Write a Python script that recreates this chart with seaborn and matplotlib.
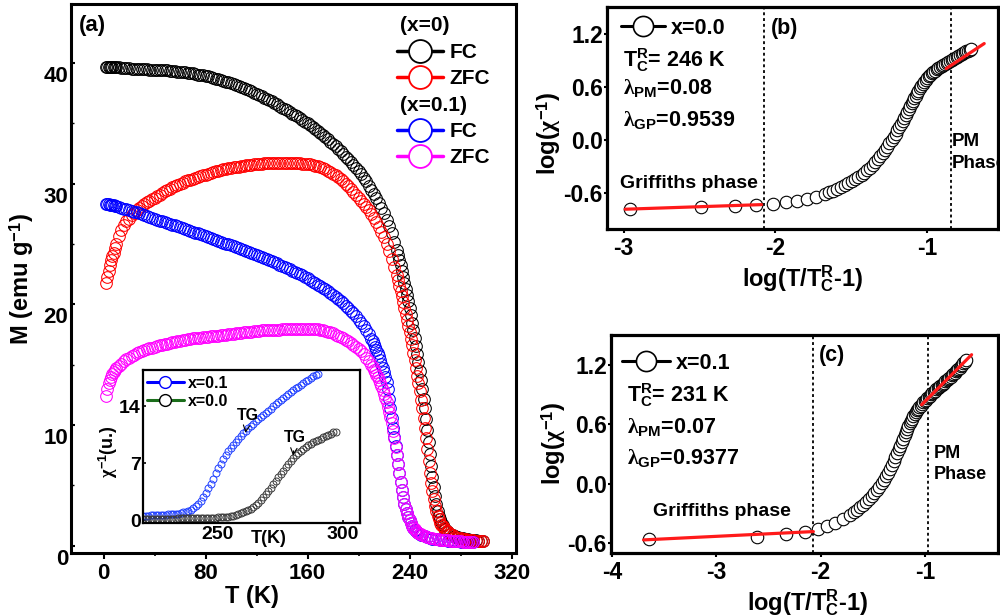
import matplotlib
matplotlib.use("Agg")
import matplotlib.pyplot as plt
from matplotlib.lines import Line2D
from matplotlib.transforms import ScaledTranslation
from matplotlib.ticker import FormatStrFormatter
import seaborn as sns

# ---------------- data ----------------
# (a) M-T curves, sample x = 0
T_x0 = [2, 3, 4, 5, 6, 7, 8, 9, 10,
        12, 14, 16, 18, 20, 22, 24, 26, 28, 30, 32, 34, 36, 38, 40, 42, 44, 46, 48, 50,
        52, 54, 56, 58, 60, 62, 64, 66, 68, 70, 72, 74, 76, 78, 80, 82, 84, 86, 88, 90,
        92, 94, 96, 98, 100, 102, 104, 106, 108, 110, 112, 114, 116, 118, 120, 122, 124,
        126, 128, 130, 132, 134, 136, 138, 140, 142, 144, 146, 148, 150, 152, 154, 156,
        158, 160, 162, 164, 166, 168, 170, 172, 174, 176, 178, 180, 182, 184, 186, 188,
        190, 192, 194, 196, 198, 200, 202, 204, 206, 208, 210, 212, 214, 216, 218, 220,
        222, 224, 226, 228, 230,
        231, 232, 233, 234, 235, 236, 237, 238, 239, 240, 241, 242, 243, 244, 245, 246,
        247, 248, 249, 250, 251, 252, 253, 254, 255, 256, 257, 258, 259, 260, 261, 262,
        263, 264, 265, 266, 267, 268, 269, 270,
        272, 274, 276, 278, 280, 282, 284, 286, 288, 290, 292, 294, 296, 298]
M_fc_x0 = [39.7, 39.7, 39.7, 39.7, 39.7, 39.7, 39.7, 39.68, 39.66,
           39.65, 39.62, 39.6, 39.58, 39.56, 39.55, 39.53, 39.52, 39.5, 39.5,
           39.49, 39.48, 39.47, 39.46, 39.45, 39.44, 39.43, 39.42, 39.41, 39.4,
           39.38, 39.35, 39.33, 39.3, 39.28, 39.25, 39.23, 39.2, 39.18, 39.15,
           39.1, 39.05, 39.03, 39.0, 38.95, 38.9, 38.85, 38.8, 38.72, 38.65,
           38.58, 38.5, 38.45, 38.4, 38.32, 38.25, 38.18, 38.1, 38.03, 37.95,
           37.85, 37.75, 37.65, 37.55, 37.45, 37.35, 37.25, 37.15, 37.05, 36.95,
           36.82, 36.7, 36.58, 36.45, 36.32, 36.2, 36.08, 35.95, 35.82, 35.7,
           35.58, 35.45, 35.3, 35.15, 35.0, 34.85, 34.7, 34.55, 34.38, 34.2,
           34.02, 33.85, 33.68, 33.5, 33.3, 33.1, 32.9, 32.7, 32.48, 32.25,
           32.02, 31.8, 31.55, 31.3, 31.05, 30.8, 30.5, 30.2, 29.85, 29.5,
           29.15, 28.8, 28.4, 28.0, 27.55, 27.0, 26.5, 25.9, 25.2, 24.5,
           24.1, 23.7, 23.25, 22.8, 22.3, 21.8, 21.3, 20.8, 20.25, 19.7,
           19.1, 18.5, 17.85, 17.2, 16.55, 15.9, 15.2, 14.5, 13.75, 13.0,
           12.2, 11.4, 10.5, 9.6, 8.6, 7.6, 6.6, 5.7, 4.85, 4.1,
           3.45, 2.9, 2.5, 2.2, 1.95, 1.7, 1.5, 1.35, 1.25, 1.15,
           1.0, 0.9, 0.8, 0.73, 0.67, 0.62, 0.58, 0.54, 0.5, 0.47, 0.45, 0.42, 0.4, 0.39]
M_zfc_x0 = [21.8, 22.3, 22.8, 23.3, 23.65, 24.0, 24.3, 24.65, 25.0,
            25.7, 26.2, 26.6, 26.9, 27.1, 27.4, 27.6, 27.8, 28.0, 28.15,
            28.3, 28.45, 28.55, 28.7, 28.85, 28.95, 29.1, 29.25, 29.4, 29.5,
            29.6, 29.7, 29.8, 29.9, 30.0, 30.1, 30.2, 30.3, 30.35, 30.4,
            30.5, 30.6, 30.65, 30.7, 30.75, 30.8, 30.9, 31.0, 31.05, 31.1,
            31.15, 31.2, 31.25, 31.3, 31.32, 31.35, 31.38, 31.4, 31.45, 31.5,
            31.52, 31.55, 31.58, 31.6, 31.62, 31.65, 31.68, 31.7, 31.7, 31.7,
            31.72, 31.75, 31.75, 31.75, 31.75, 31.75, 31.75, 31.75, 31.72, 31.7,
            31.7, 31.7, 31.68, 31.65, 31.62, 31.6, 31.55, 31.5, 31.45, 31.4,
            31.3, 31.2, 31.1, 31.0, 30.85, 30.7, 30.55, 30.4, 30.2, 30.0,
            29.8, 29.6, 29.35, 29.1, 28.85, 28.6, 28.35, 28.1, 27.8, 27.5,
            27.15, 26.8, 26.4, 26.0, 25.55, 25.0, 24.4, 23.8, 23.1, 22.4,
            22.0, 21.55, 21.15, 20.7, 20.2, 19.7, 19.2, 18.7, 18.2, 17.7,
            17.15, 16.6, 16.0, 15.4, 14.75, 14.1, 13.45, 12.8, 12.1, 11.4,
            10.6, 9.8, 8.9, 8.0, 7.0, 6.0, 5.2, 4.5, 3.85, 3.3,
            2.85, 2.5, 2.2, 1.9, 1.75, 1.6, 1.45, 1.3, 1.2, 1.1,
            0.95, 0.85, 0.75, 0.68, 0.63, 0.58, 0.54, 0.5, 0.47, 0.45, 0.43, 0.41, 0.39, 0.38]

# (a) M-T curves, sample x = 0.1
T_x01 = [2, 3, 4, 5, 6, 7, 8, 9, 10,
         12, 14, 16, 18, 20, 22, 24, 26, 28, 30, 32, 34, 36, 38, 40, 42, 44, 46, 48, 50,
         52, 54, 56, 58, 60, 62, 64, 66, 68, 70, 72, 74, 76, 78, 80, 82, 84, 86, 88, 90,
         92, 94, 96, 98, 100, 102, 104, 106, 108, 110, 112, 114, 116, 118, 120, 122, 124,
         126, 128, 130, 132, 134, 136, 138, 140, 142, 144, 146, 148, 150, 152, 154, 156,
         158, 160, 162, 164, 166, 168, 170, 172, 174, 176, 178, 180, 182, 184, 186, 188,
         190, 192, 194, 196, 198, 200, 202, 204, 206, 208, 210,
         211, 212, 213, 214, 215, 216, 217, 218, 219, 220, 221, 222, 223, 224, 225, 226,
         227, 228, 229, 230, 231, 232, 233, 234, 235, 236, 237, 238, 239, 240, 241, 242,
         243, 244, 245, 246, 247, 248, 249, 250,
         252, 254, 256, 258, 260, 262, 264, 266, 268, 270, 272, 274, 276, 278, 280, 282,
         284, 286, 288, 290]
M_fc_x01 = [28.3, 28.3, 28.3, 28.28, 28.25, 28.22, 28.2, 28.18, 28.15,
            28.1, 28.03, 27.95, 27.9, 27.85, 27.78, 27.7, 27.62, 27.55, 27.48,
            27.4, 27.32, 27.25, 27.18, 27.1, 27.02, 26.95, 26.88, 26.8, 26.75,
            26.7, 26.62, 26.55, 26.48, 26.4, 26.32, 26.25, 26.18, 26.1, 26.02,
            25.95, 25.88, 25.8, 25.72, 25.65, 25.58, 25.5, 25.42, 25.35, 25.28,
            25.2, 25.12, 25.05, 24.98, 24.9, 24.82, 24.75, 24.68, 24.6, 24.5,
            24.4, 24.32, 24.25, 24.18, 24.1, 24.02, 23.95, 23.85, 23.75, 23.68,
            23.6, 23.5, 23.4, 23.3, 23.2, 23.1, 23.0, 22.9, 22.8, 22.7,
            22.6, 22.5, 22.4, 22.28, 22.15, 22.02, 21.9, 21.78, 21.65, 21.52,
            21.4, 21.25, 21.1, 20.95, 20.8, 20.62, 20.45, 20.28, 20.1, 19.9,
            19.7, 19.48, 19.25, 19.0, 18.75, 18.5, 18.2, 17.9, 17.55, 17.15,
            16.95, 16.75, 16.5, 16.25, 16.0, 15.7, 15.4, 15.1, 14.75, 14.4,
            14.0, 13.6, 12.95, 12.2, 11.4, 10.6, 9.8, 9.0, 8.25, 7.5,
            6.75, 6.0, 5.3, 4.6, 4.0, 3.5, 3.05, 2.7, 2.4, 2.1,
            1.85, 1.6, 1.45, 1.3, 1.2, 1.1, 1.02, 0.95, 0.9, 0.85,
            0.78, 0.72, 0.65, 0.6, 0.56, 0.52, 0.5, 0.47, 0.45, 0.43,
            0.41, 0.4, 0.38, 0.37, 0.35, 0.34, 0.33, 0.32, 0.31, 0.3]
M_zfc_x01 = [12.4, 13.0, 13.5, 13.75, 14.0, 14.2, 14.4, 14.55, 14.7,
             14.9, 15.1, 15.3, 15.45, 15.6, 15.72, 15.85, 15.95, 16.05, 16.12,
             16.2, 16.28, 16.35, 16.42, 16.5, 16.55, 16.6, 16.65, 16.7, 16.75,
             16.8, 16.85, 16.9, 16.95, 17.0, 17.02, 17.05, 17.1, 17.15, 17.18,
             17.2, 17.22, 17.25, 17.28, 17.3, 17.32, 17.35, 17.38, 17.4, 17.42,
             17.45, 17.48, 17.5, 17.52, 17.55, 17.58, 17.6, 17.62, 17.65, 17.68,
             17.7, 17.72, 17.75, 17.78, 17.8, 17.82, 17.85, 17.85, 17.85, 17.88,
             17.9, 17.9, 17.9, 17.92, 17.95, 17.95, 17.95, 17.98, 18.0, 18.0,
             18.0, 18.0, 18.0, 18.0, 18.0, 18.0, 18.0, 17.98, 17.95, 17.92,
             17.9, 17.82, 17.75, 17.68, 17.6, 17.5, 17.4, 17.3, 17.2, 17.08,
             16.95, 16.8, 16.65, 16.48, 16.3, 16.1, 15.88, 15.6, 15.3, 15.0,
             14.8, 14.6, 14.4, 14.18, 13.95, 13.7, 13.45, 13.2, 12.9, 12.6,
             12.25, 11.9, 11.5, 11.1, 10.65, 10.2, 9.55, 8.9, 8.2, 7.5,
             6.75, 6.0, 5.3, 4.6, 4.0, 3.5, 3.05, 2.7, 2.4, 2.1,
             1.85, 1.65, 1.5, 1.35, 1.25, 1.15, 1.07, 1.0, 0.95, 0.9,
             0.82, 0.75, 0.68, 0.63, 0.58, 0.54, 0.51, 0.48, 0.46, 0.44,
             0.42, 0.4, 0.39, 0.37, 0.36, 0.35, 0.34, 0.33, 0.31, 0.3]

# inset: inverse susceptibility
T_in_x01 = [220, 221, 222, 223, 224, 225, 226, 227, 228, 229,
            230, 231, 232, 233, 234, 235, 236, 237, 238, 239,
            240, 241, 242, 243, 244, 245, 246, 247, 248, 249,
            250, 251, 252, 253, 254, 255, 256, 257, 258, 259,
            260, 261, 262, 263, 264, 265, 266, 267, 268, 269,
            270, 271, 272, 273, 274, 275, 276, 277, 278, 279,
            280, 281, 282, 283, 284, 285, 286, 287, 288, 289, 290]
chi_inv_x01 = [0.55, 0.55, 0.55, 0.57, 0.6, 0.6, 0.6, 0.62, 0.65, 0.68,
               0.7, 0.72, 0.75, 0.78, 0.8, 0.87, 0.95, 1.05, 1.15, 1.3,
               1.45, 1.68, 1.95, 2.35, 2.8, 3.35, 3.9, 4.5, 5.1, 5.75,
               6.4, 6.95, 7.5, 8.0, 8.5, 8.9, 9.3, 9.65, 10.0, 10.35,
               10.7, 11.0, 11.3, 11.6, 11.9, 12.2, 12.5, 12.75, 13.0, 13.25,
               13.5, 13.75, 14.0, 14.25, 14.5, 14.75, 15.0, 15.25, 15.5, 15.75,
               16.0, 16.22, 16.45, 16.68, 16.9, 17.1, 17.3, 17.5, 17.7, 17.85, 18.0]
T_in_x0 = [220, 221, 222, 223, 224, 225, 226, 227, 228, 229,
           230, 231, 232, 233, 234, 235, 236, 237, 238, 239,
           240, 241, 242, 243, 244, 245, 246, 247, 248, 249,
           250, 251, 252, 253, 254, 255, 256, 257, 258, 259,
           260, 261, 262, 263, 264, 265, 266, 267, 268, 269,
           270, 271, 272, 273, 274, 275, 276, 277, 278, 279,
           280, 281, 282, 283, 284, 285, 286, 287, 288, 289,
           290, 291, 292, 293, 294, 295, 296, 297]
chi_inv_x0 = [0.15, 0.15, 0.15, 0.15, 0.15, 0.15, 0.15, 0.15, 0.15, 0.16,
              0.17, 0.17, 0.18, 0.19, 0.2, 0.2, 0.2, 0.21, 0.22, 0.22,
              0.23, 0.24, 0.25, 0.26, 0.27, 0.27, 0.28, 0.29, 0.3, 0.31,
              0.32, 0.33, 0.35, 0.37, 0.4, 0.44, 0.5, 0.6, 0.7, 0.82,
              0.95, 1.1, 1.25, 1.42, 1.6, 1.85, 2.1, 2.45, 2.8, 3.2,
              3.6, 4.0, 4.4, 4.85, 5.3, 5.7, 6.1, 6.5, 6.9, 7.3,
              7.7, 8.0, 8.3, 8.55, 8.8, 9.0, 9.2, 9.4, 9.6, 9.75,
              9.9, 10.05, 10.2, 10.35, 10.5, 10.65, 10.8, 10.9]

# (b) log-log plot, x = 0.0
logt_b = [-2.956, -2.49, -2.264, -2.125, -2.015, -1.927, -1.857, -1.791, -1.730, -1.672,
          -1.644, -1.618, -1.592, -1.566, -1.542, -1.518, -1.495, -1.472, -1.451, -1.430,
          -1.411, -1.392, -1.374, -1.356, -1.339, -1.322, -1.306, -1.290, -1.275, -1.260,
          -1.246, -1.232, -1.219, -1.206, -1.194, -1.182, -1.171, -1.160, -1.149, -1.139,
          -1.129, -1.119, -1.109, -1.100, -1.091, -1.082, -1.073, -1.064, -1.055, -1.046,
          -1.036, -1.027, -1.017, -1.008, -0.998, -0.988, -0.977, -0.967, -0.956, -0.946,
          -0.935, -0.924, -0.913, -0.902, -0.891, -0.880, -0.869, -0.858, -0.847, -0.836,
          -0.825, -0.814, -0.803, -0.792, -0.781, -0.770, -0.760, -0.749, -0.739, -0.728,
          -0.717, -0.705]
logchi_b = [-0.78, -0.765, -0.752, -0.741, -0.725, -0.707, -0.688, -0.668, -0.643, -0.613,
            -0.596, -0.578, -0.559, -0.538, -0.517, -0.494, -0.471, -0.448, -0.424, -0.400,
            -0.373, -0.345, -0.316, -0.285, -0.253, -0.220, -0.186, -0.150, -0.114, -0.078,
            -0.042, -0.005, 0.032, 0.068, 0.104, 0.140, 0.175, 0.210, 0.244, 0.278,
            0.312, 0.345, 0.378, 0.410, 0.440, 0.470, 0.499, 0.528, 0.556, 0.583,
            0.608, 0.632, 0.655, 0.676, 0.697, 0.716, 0.734, 0.750, 0.766, 0.782,
            0.796, 0.810, 0.823, 0.836, 0.847, 0.858, 0.868, 0.878, 0.888, 0.897,
            0.908, 0.920, 0.932, 0.944, 0.956, 0.968, 0.978, 0.988, 0.998, 1.008,
            1.019, 1.03]
gp_fit_b_x = [-2.99, -2.09]
gp_fit_b_y = [-0.786, -0.734]
pm_fit_b_x = [-0.872, -0.621]
pm_fit_b_y = [0.804, 1.087]
bounds_b = [-2.077, -0.84]

# (c) log-log plot, x = 0.1
logt_c = [-3.65, -2.606, -2.331, -2.149, -2.03, -1.94, -1.862, -1.785, -1.715, -1.682,
          -1.650, -1.620, -1.590, -1.562, -1.535, -1.510, -1.485, -1.461, -1.438, -1.416,
          -1.395, -1.375, -1.355, -1.336, -1.318, -1.300, -1.283, -1.267, -1.251, -1.236,
          -1.222, -1.208, -1.195, -1.182, -1.170, -1.158, -1.146, -1.134, -1.123, -1.111,
          -1.100, -1.088, -1.077, -1.065, -1.053, -1.041, -1.029, -1.016, -1.004, -0.991,
          -0.979, -0.966, -0.954, -0.941, -0.929, -0.916, -0.904, -0.891, -0.879, -0.866,
          -0.854, -0.841, -0.829, -0.816, -0.804, -0.791, -0.779, -0.766, -0.754, -0.741,
          -0.729, -0.716, -0.704, -0.692, -0.680, -0.668, -0.656, -0.644, -0.632, -0.620,
          -0.607]
logchi_c = [-0.561, -0.541, -0.51, -0.484, -0.46, -0.428, -0.393, -0.355, -0.313, -0.290,
            -0.266, -0.240, -0.214, -0.186, -0.158, -0.128, -0.097, -0.065, -0.032, 0.003,
            0.038, 0.075, 0.112, 0.151, 0.190, 0.229, 0.268, 0.307, 0.345, 0.382,
            0.418, 0.453, 0.487, 0.519, 0.550, 0.579, 0.607, 0.633, 0.657, 0.679,
            0.700, 0.720, 0.738, 0.755, 0.772, 0.788, 0.804, 0.819, 0.834, 0.848,
            0.862, 0.875, 0.888, 0.900, 0.913, 0.925, 0.938, 0.950, 0.962, 0.973,
            0.985, 0.996, 1.008, 1.019, 1.031, 1.043, 1.055, 1.067, 1.080, 1.093,
            1.106, 1.119, 1.132, 1.145, 1.158, 1.171, 1.185, 1.199, 1.213, 1.229,
            1.245]
gp_fit_c_x = [-3.698, -2.07]
gp_fit_c_y = [-0.568, -0.484]
pm_fit_c_x = [-1.032, -0.553]
pm_fit_c_y = [0.796, 1.301]
bounds_c = [-2.07, -0.968]

# ---------------- style ----------------
sns.set_theme(style="ticks")
plt.rcParams.update({
    "font.family": ["Liberation Sans", "DejaVu Sans"],
    "font.weight": "bold",
    "axes.labelweight": "bold",
    "axes.unicode_minus": False,
    "mathtext.fontset": "custom",
    "mathtext.rm": "Liberation Sans:bold",
    "mathtext.bf": "Liberation Sans:bold",
    "mathtext.sf": "Liberation Sans:bold",
    "mathtext.it": "Liberation Serif",
    "axes.edgecolor": "black",
    "xtick.color": "black",
    "ytick.color": "black",
    "text.color": "black",
    "axes.labelcolor": "black",
})

fig = plt.figure(figsize=(10, 6.16), dpi=100)
ax_a = fig.add_axes([0.071, 0.1023, 0.445, 0.8912])
ax_in = fig.add_axes([0.1433, 0.1505, 0.2167, 0.2489])
ax_b = fig.add_axes([0.607, 0.6282, 0.391, 0.3604])
ax_c = fig.add_axes([0.611, 0.1023, 0.387, 0.3539])


def rings(ax, x, y, color, ms, mew, face="none", z=2):
    sns.lineplot(x=x, y=y, ax=ax, color=color, marker="o", linestyle="none",
                 markersize=ms, markerfacecolor=face, markeredgecolor=color,
                 markeredgewidth=mew, estimator=None, sort=False, legend=False, zorder=z)


def fit_line(ax, x, y, color):
    sns.lineplot(x=x, y=y, ax=ax, color=color, linewidth=2.3, estimator=None,
                 sort=False, legend=False, zorder=5)


# ---------------- panel (a) ----------------
rings(ax_a, T_x0, M_fc_x0, "#000000", 8.4, 0.75)
rings(ax_a, T_x0, M_zfc_x0, "#ff0000", 8.4, 0.75)
rings(ax_a, T_x01, M_fc_x01, "#0000ff", 8.4, 0.75)
rings(ax_a, T_x01, M_zfc_x01, "#ff00ff", 8.4, 0.75)

ax_a.set_xlim(-25.5, 323.5)
ax_a.set_ylim(-0.6, 44.9)
ax_a.set_xticks([0, 80, 160, 240, 320])
ax_a.set_xticks([40, 120, 200, 280], minor=True)
ax_a.set_yticks([0, 10, 20, 30, 40])
ax_a.set_yticks([5, 15, 25, 35], minor=True)
ax_a.tick_params(axis="x", which="major", direction="out", length=4, width=1.5,
                 labelsize=16, pad=3)
ax_a.tick_params(axis="x", which="minor", direction="out", length=2.5, width=1.2)
ax_a.tick_params(axis="y", which="major", direction="in", length=3, width=1.5,
                 labelsize=16, pad=2)
ax_a.tick_params(axis="y", which="minor", direction="in", length=2, width=1.0)
for t in ax_a.yaxis.get_major_ticks():
    t.label1.set_transform(t.label1.get_transform()
                           + ScaledTranslation(0, -0.11, fig.dpi_scale_trans))
for s in ax_a.spines.values():
    s.set_linewidth(2.2)
ax_a.set_xlabel("T (K)", fontsize=17)
ax_a.xaxis.set_label_coords(0.407, -0.058)
ax_a.set_ylabel(r"M (emu g$^{\mathbf{-1}}$)", fontsize=17)
ax_a.yaxis.set_label_coords(-0.079, 0.5)
ax_a.text(0.049, 0.961, "(a)", transform=ax_a.transAxes, ha="center", va="center",
          fontsize=16)

blank = Line2D([], [], linestyle="none")


def entry(color):
    return Line2D([], [], color=color, linewidth=2.5, marker="o", markersize=16.5,
                  markerfacecolor="white", markeredgecolor=color, markeredgewidth=1.3)


ax_a.legend([blank, entry("#000000"), entry("#ff0000"), blank, entry("#0000ff"),
             entry("#ff00ff")],
            [" ", "FC", "ZFC", " ", "FC", "ZFC"],
            loc="upper left", bbox_to_anchor=(0.733, 0.977), frameon=False, fontsize=15,
            handlelength=2.2, handletextpad=0.3, labelspacing=0.35, borderpad=0,
            borderaxespad=0)
ax_a.text(0.739, 0.9617, "(x=0)", transform=ax_a.transAxes, ha="left", va="center",
          fontsize=15)
ax_a.text(0.739, 0.816, "(x=0.1)", transform=ax_a.transAxes, ha="left", va="center",
          fontsize=15)

# ---------------- inset ----------------
rings(ax_in, T_in_x01, chi_inv_x01, "#1f3fff", 5, 0.7)
rings(ax_in, T_in_x0, chi_inv_x0, "#3a3a3a", 5, 0.7)
ax_in.set_xlim(220.1, 306.8)
ax_in.set_ylim(-0.4, 18.5)
ax_in.set_xticks([250, 300])
ax_in.set_yticks([0, 7, 14])
ax_in.tick_params(direction="in", length=2, width=1.2, labelsize=14, pad=2)
for s in ax_in.spines.values():
    s.set_linewidth(1.6)
ax_in.set_xlabel("T(K)", fontsize=13)
ax_in.xaxis.set_label_coords(0.577, -0.044)
ax_in.set_ylabel(r"$\chi^{\mathbf{-1}}$(u.)", fontsize=13)
ax_in.yaxis.set_label_coords(-0.108, 0.465)
ax_in.legend([Line2D([], [], color="#0000ff", linewidth=2.2, marker="o", markersize=8.5,
                     markerfacecolor="white", markeredgecolor="#0000ff", markeredgewidth=1),
              Line2D([], [], color="#1b6e1b", linewidth=2.2, marker="o", markersize=8.5,
                     markerfacecolor="white", markeredgecolor="black", markeredgewidth=1)],
             ["x=0.1", "x=0.0"], loc="upper left", bbox_to_anchor=(0.016, 0.963),
             frameon=False, fontsize=11.5, handlelength=2.3, handletextpad=0.3,
             labelspacing=0.19, borderpad=0, borderaxespad=0)
ax_in.annotate("TG", xy=(260.8, 10.4), xytext=(262, 12.9), ha="center", va="center",
               fontsize=11.5, arrowprops=dict(arrowstyle="->", lw=0.8, color="black"))
ax_in.annotate("TG", xy=(279.9, 7.6), xytext=(280.8, 10.2), ha="center", va="center",
               fontsize=11.5, arrowprops=dict(arrowstyle="->", lw=0.8, color="black"))


# ---------------- panels (b) and (c) ----------------
def griffiths_panel(ax, x, y, gp_x, gp_y, pm_x, pm_y, bounds, xlim, ylim, xticks,
                    tag, tag_xy, label, legend_xy, handle_len, text_x, text_ys, lines,
                    gp_xy, pm_xy, pm_size, ylab_xy, xlab_xy):
    rings(ax, x, y, "#000000", 9, 0.8, face="white")
    fit_line(ax, gp_x, gp_y, "#ff1a1a")
    fit_line(ax, pm_x, pm_y, "#ff1a1a")
    for b in bounds:
        ax.axvline(b, color="black", linestyle=(0, (1.6, 1.6)), linewidth=1.3, zorder=1)
    ax.set_xlim(*xlim)
    ax.set_ylim(*ylim)
    ax.set_xticks(xticks)
    ax.set_yticks([-0.6, 0.0, 0.6, 1.2])
    ax.yaxis.set_major_formatter(FormatStrFormatter("%.1f"))
    ax.tick_params(axis="x", direction="out", length=3, width=1.5, labelsize=16.5, pad=3)
    ax.tick_params(axis="y", direction="out", length=2, width=1.5, labelsize=16.5, pad=1)
    for s in ax.spines.values():
        s.set_linewidth(2.3)
    ax.set_ylabel(r"log($\chi^{\mathbf{-1}}$)", fontsize=17)
    ax.yaxis.set_label_coords(*ylab_xy)
    ax.set_xlabel(r"log(T/T$_{\mathbf{C}}^{\mathbf{R}}$-1)", fontsize=17)
    ax.xaxis.set_label_coords(*xlab_xy)
    ax.legend([Line2D([], [], color="black", linewidth=2.2, marker="o", markersize=14.5,
                      markerfacecolor="white", markeredgecolor="black",
                      markeredgewidth=1.2)],
              [label], loc="center left", bbox_to_anchor=legend_xy, frameon=False,
              fontsize=15.5, handlelength=handle_len, handletextpad=0.28, borderpad=0,
              borderaxespad=0)
    for ty, s in zip(text_ys, lines):
        ax.text(text_x, ty, s, transform=ax.transAxes, ha="left", va="center",
                fontsize=15.5)
    ax.text(tag_xy[0], tag_xy[1], tag, transform=ax.transAxes, ha="center",
            va="center", fontsize=15.5)
    ax.text(gp_xy[0], gp_xy[1], "Griffiths phase", transform=ax.transAxes, ha="left",
            va="center", fontsize=14)
    ax.text(pm_xy[0], pm_xy[1], "PM", transform=ax.transAxes, ha="left",
            va="center", fontsize=pm_size)
    ax.text(pm_xy[0], pm_xy[2], "Phase", transform=ax.transAxes, ha="left",
            va="center", fontsize=pm_size)


griffiths_panel(ax_b, logt_b, logchi_b, gp_fit_b_x, gp_fit_b_y, pm_fit_b_x, pm_fit_b_y,
                bounds_b, (-3.11, -0.53), (-1.01, 1.50), [-3, -2, -1], "(b)",
                (0.455, 0.905), "x=0.0", (0.0358, 0.905), 2.05, 0.04,
                [0.761, 0.635, 0.491],
                [r"$\mathbf{T}_{\mathbf{C}}^{\mathbf{R}}$= 246 K",
                 r"$\lambda_{\mathbf{PM}}$=0.08", r"$\lambda_{\mathbf{GP}}$=0.9539"],
                (0.033, 0.207), (0.882, 0.393, 0.296), 13.5,
                (-0.1125, 0.432), (0.5, -0.153))

griffiths_panel(ax_c, logt_c, logchi_c, gp_fit_c_x, gp_fit_c_y, pm_fit_c_x, pm_fit_c_y,
                bounds_c, (-4.01, -0.30), (-0.70, 1.50), [-4, -3, -2, -1], "(c)",
                (0.570, 0.908), "x=0.1", (0.0276, 0.870), 2.25, 0.0406,
                [0.725, 0.579, 0.434],
                [r"$\mathbf{T}_{\mathbf{C}}^{\mathbf{R}}$= 231 K",
                 r"$\lambda_{\mathbf{PM}}$=0.07", r"$\lambda_{\mathbf{GP}}$=0.9377"],
                (0.1085, 0.189), (0.833, 0.457, 0.358), 13,
                (-0.111, 0.502), (0.509, -0.155))

fig.savefig("out.png", dpi=100)
